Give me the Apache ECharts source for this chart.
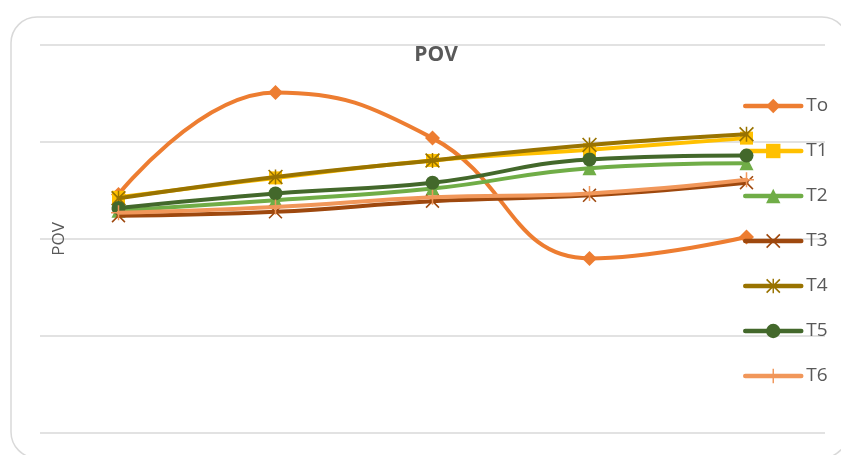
<!DOCTYPE html>
<html>
<head>
<meta charset="utf-8">
<script src="https://cdn.jsdelivr.net/npm/echarts@6/dist/echarts.min.js"></script>
<style>
  html, body { margin: 0; padding: 0; background: #fff; }
  #chart { width: 841px; height: 455px; }
</style>
</head>
<body>
<div id="chart"></div>
<script>
// Sampling points along the x axis (labels hidden)
const categories = ['1', '2', '3', '4', '5'];

// POV values per treatment
const seriesNames = ['To', 'T1', 'T2', 'T3', 'T4', 'T5', 'T6'];
const valuesTo = [2.46, 3.51, 3.04, 1.80, 2.02];
const valuesT1 = [2.43, 2.63, 2.81, 2.92, 3.04];
const valuesT2 = [2.29, 2.40, 2.52, 2.73, 2.78];
const valuesT3 = [2.24, 2.28, 2.39, 2.45, 2.58];
const valuesT4 = [2.42, 2.64, 2.81, 2.97, 3.08];
const valuesT5 = [2.32, 2.47, 2.58, 2.82, 2.86];
const valuesT6 = [2.27, 2.33, 2.43, 2.47, 2.61];

const colors = ['#ED7D31', '#FFC000', '#70AD47', '#9E480E', '#997300', '#43682B', '#F1975A'];

// Thin-stroke marker shapes built as filled outlines
const xMark = 'path://M0,0.8L0.8,0L10,9.2L9.2,10Z M9.2,0L10,0.8L0.8,10L0,9.2Z';
const plusMark = 'path://M4.5,0H5.5V10H4.5Z M0,4.5H10V5.5H0Z';
const starMark = 'path://M0,0.8L0.8,0L10,9.2L9.2,10Z M9.2,0L10,0.8L0.8,10L0,9.2Z M4.5,0H5.5V10H4.5Z';

const markers = [
  { symbol: 'diamond', size: 15 },
  { symbol: 'rect', size: 13 },
  { symbol: 'triangle', size: 14 },
  { symbol: xMark, size: 14 },
  { symbol: starMark, size: 15 },
  { symbol: 'circle', size: 14 },
  { symbol: plusMark, size: 15 }
];

const allValues = [valuesTo, valuesT1, valuesT2, valuesT3, valuesT4, valuesT5, valuesT6];

const series = seriesNames.map((name, i) => ({
  name: name,
  type: 'line',
  data: allValues[i],
  smooth: 0.45,
  symbol: markers[i].symbol,
  symbolSize: markers[i].size,
  showSymbol: true,
  lineStyle: { color: colors[i], width: 4, cap: 'round' },
  itemStyle: { color: colors[i], borderColor: colors[i], borderWidth: 0 },
  emphasis: { disabled: true },
  z: 2 + i
}));

const chart = echarts.init(document.getElementById('chart'), null, { renderer: 'canvas' });
chart.setOption({
  animation: false,
  backgroundColor: '#ffffff',
  color: colors,
  graphic: [{
    type: 'rect',
    shape: { x: 11, y: 17, width: 837, height: 441, r: 26 },
    style: { fill: 'none', stroke: '#d9d9d9', lineWidth: 1.5 },
    silent: true,
    z: -10
  }],
  title: {
    text: 'POV',
    left: 431,
    textAlign: 'center',
    top: 40,
    textStyle: {
      fontFamily: 'Open Sans',
      fontWeight: 'bold',
      fontSize: 21,
      color: '#595959'
    }
  },
  legend: {
    orient: 'vertical',
    left: 738,
    top: 91,
    itemWidth: 56,
    itemHeight: 18,
    itemGap: 25,
    lineStyle: { width: 4.5, cap: 'round' },
    textStyle: {
      fontFamily: 'Open Sans',
      fontSize: 19,
      lineHeight: 20,
      color: '#595959'
    },
    data: seriesNames
  },
  grid: { left: 40, right: 16, top: 45, bottom: 22, containLabel: false },
  xAxis: {
    type: 'category',
    data: categories,
    boundaryGap: true,
    axisLine: { show: false },
    axisTick: { show: false },
    axisLabel: { show: false },
    splitLine: { show: false }
  },
  yAxis: {
    type: 'value',
    min: 0,
    max: 4,
    interval: 1,
    name: 'POV',
    nameLocation: 'middle',
    nameGap: -28,
    nameRotate: 90,
    nameTextStyle: {
      fontFamily: 'Open Sans',
      fontSize: 17,
      color: '#595959'
    },
    axisLine: { show: false },
    axisTick: { show: false },
    axisLabel: { show: false },
    splitLine: { lineStyle: { color: '#d9d9d9', width: 1.5 } }
  },
  series: series
});
</script>
</body>
</html>
